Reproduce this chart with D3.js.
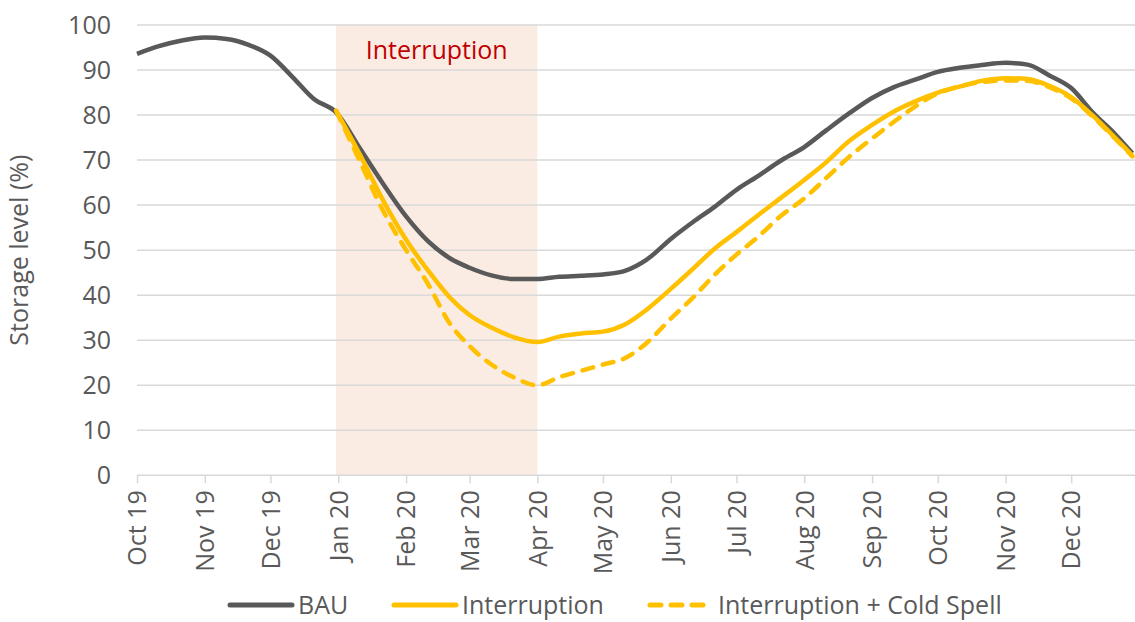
<!DOCTYPE html>
<html>
<head>
  <meta charset="utf-8">
  <script src="https://d3js.org/d3.v7.min.js"></script>
  <title>Storage level</title>
  <style>
    body { margin: 0; background: #ffffff; }
    text { font-family: "Open Sans", sans-serif; fill: #595959; }
    .grid line { stroke: #D9D9D9; stroke-width: 1.5px; }
    .x.axis path, .x.axis line { stroke: #D9D9D9; stroke-width: 1.5px; }
  </style>
</head>
<body>
<div id="chart"></div>
<script>

// dates sampled roughly every 10 days
var dates = ["2019-10-01","2019-10-11","2019-10-21","2019-11-01","2019-11-11","2019-11-21",
  "2019-12-01","2019-12-11","2019-12-21","2019-12-31","2020-01-11","2020-01-21",
  "2020-02-01","2020-02-11","2020-02-21","2020-03-01","2020-03-11","2020-03-21",
  "2020-04-01","2020-04-11","2020-04-21","2020-05-01","2020-05-11","2020-05-21",
  "2020-06-01","2020-06-11","2020-06-21","2020-07-01","2020-07-11","2020-07-21",
  "2020-08-01","2020-08-11","2020-08-21","2020-09-01","2020-09-11","2020-09-21",
  "2020-10-01","2020-10-11","2020-10-21","2020-11-01","2020-11-11","2020-11-21",
  "2020-12-01","2020-12-11","2020-12-21","2020-12-29"];

var bau = [93.6,95.3,96.5,97.2,96.9,95.6,
  93.2,88.5,83.5,80.6,72.5,65.1,
  57.5,52.0,48.2,46.1,44.4,43.6,
  43.6,44.1,44.3,44.6,45.4,47.9,
  52.5,56.2,59.6,63.4,66.5,69.8,
  72.9,76.6,80.2,83.8,86.2,87.9,
  89.6,90.5,91.1,91.6,91.2,88.8,
  86.0,80.5,75.8,71.5];

var interruption = [null,null,null,null,null,null,
  null,null,null,81.0,71.1,61.5,
  52.3,45.5,39.5,35.6,32.8,30.7,
  29.6,30.8,31.5,31.9,33.5,36.8,
  41.4,45.8,50.3,54.0,57.8,61.5,
  65.6,69.5,74.0,77.8,80.8,83.1,
  85.0,86.3,87.6,88.2,88.0,86.5,
  84.0,79.8,75.0,71.0];

var coldSpell = [null,null,null,null,null,null,
  null,null,null,81.0,69.6,59.2,
  50.0,42.5,33.7,28.7,24.6,21.8,
  20.0,21.8,23.2,24.6,26.0,29.4,
  34.8,39.4,44.5,49.0,53.0,57.5,
  61.5,66.0,70.5,74.8,78.5,82.0,
  84.8,86.4,87.3,87.7,87.6,86.2,
  83.7,79.6,74.8,70.8];

var tickMonths = ["2019-10-01","2019-11-01","2019-12-01","2020-01-01","2020-02-01","2020-03-01",
  "2020-04-01","2020-05-01","2020-06-01","2020-07-01","2020-08-01","2020-09-01",
  "2020-10-01","2020-11-01","2020-12-01"];
var yTicks = [0,10,20,30,40,50,60,70,80,90,100];
var shadeRange = ["2019-12-31","2020-04-01"];

var parse = d3.timeParse("%Y-%m-%d");

var margin = {left: 137, right: 1139, top: 25, bottom: 475.3},
    width = 1135, height = 622;

var svg = d3.select("#chart").append("svg")
  .attr("width", width)
  .attr("height", height);

var x = d3.scaleTime()
  .domain([parse("2019-10-01"), parse("2021-01-01")])
  .range([margin.left, margin.right]);
var y = d3.scaleLinear().domain([0, 100]).range([margin.bottom, margin.top]);

// interruption shading
svg.append("rect")
  .attr("x", x(parse(shadeRange[0])))
  .attr("y", y(100))
  .attr("width", x(parse(shadeRange[1])) - x(parse(shadeRange[0])))
  .attr("height", y(0) - y(100))
  .attr("fill", "#FBECE3");

svg.append("text")
  .attr("x", (x(parse(shadeRange[0])) + x(parse(shadeRange[1]))) / 2)
  .attr("y", 59)
  .attr("text-anchor", "middle")
  .style("font-size", "25px")
  .style("fill", "#C00000")
  .text("Interruption");

// gridlines
svg.append("g")
  .attr("class", "grid")
  .selectAll("line")
  .data(yTicks.slice(1))
  .enter().append("line")
    .attr("x1", margin.left)
    .attr("x2", width)
    .attr("y1", function(d) { return y(d); })
    .attr("y2", function(d) { return y(d); });

// y labels
svg.append("g")
  .selectAll("text")
  .data(yTicks)
  .enter().append("text")
    .attr("x", 111)
    .attr("y", function(d) { return y(d); })
    .attr("dy", "0.35em")
    .attr("text-anchor", "end")
    .style("font-size", "25px")
    .text(function(d) { return d; });

// x axis
var xAxis = svg.append("g")
  .attr("class", "x axis")
  .attr("transform", "translate(0," + margin.bottom + ")")
  .call(d3.axisBottom(x)
    .tickValues(tickMonths.map(parse))
    .tickSize(8)
    .tickSizeOuter(0)
    .tickFormat(d3.timeFormat("%b %y")));

xAxis.select(".domain").attr("d", "M" + margin.left + ",0H" + width);

xAxis.selectAll("text")
  .attr("transform", "rotate(-90)")
  .attr("x", -15)
  .attr("y", 0)
  .attr("dy", "0.35em")
  .style("text-anchor", "end")
  .style("font-size", "25px")
  .style("font-family", "'Open Sans', sans-serif")
  .style("fill", "#595959");

// y axis title
svg.append("text")
  .attr("transform", "translate(28," + ((margin.top + margin.bottom) / 2) + ") rotate(-90)")
  .attr("text-anchor", "middle")
  .style("font-size", "25px")
  .text("Storage level (%)");

// lines
function makeLine(values) {
  return d3.line()
    .defined(function(d, i) { return values[i] != null; })
    .x(function(d) { return x(parse(d)); })
    .y(function(d, i) { return y(values[i]); })
    .curve(d3.curveMonotoneX)(dates);
}

svg.append("path")
  .attr("d", makeLine(bau))
  .attr("fill", "none")
  .attr("stroke", "#595959")
  .attr("stroke-width", 4.5)
  .attr("stroke-linejoin", "round");

svg.append("path")
  .attr("d", makeLine(coldSpell))
  .attr("fill", "none")
  .attr("stroke", "#FFC000")
  .attr("stroke-width", 4.5)
  .attr("stroke-linecap", "round")
  .attr("stroke-dasharray", "11,10");

svg.append("path")
  .attr("d", makeLine(interruption))
  .attr("fill", "none")
  .attr("stroke", "#FFC000")
  .attr("stroke-width", 4.5)
  .attr("stroke-linejoin", "round");

// legend
var legend = [
  {name: "BAU", color: "#595959", dash: null, x: 230},
  {name: "Interruption", color: "#FFC000", dash: null, x: 394},
  {name: "Interruption + Cold Spell", color: "#FFC000", dash: "11,10", x: 650}
];

var lg = svg.append("g").selectAll("g")
  .data(legend)
  .enter().append("g")
    .attr("transform", function(d) { return "translate(" + d.x + ",605)"; });

lg.append("line")
  .attr("x1", 0).attr("x2", 62)
  .attr("stroke", function(d) { return d.color; })
  .attr("stroke-width", 5)
  .attr("stroke-linecap", "round")
  .attr("stroke-dasharray", function(d) { return d.dash; });

lg.append("text")
  .attr("x", 68)
  .attr("dy", "0.35em")
  .style("font-size", "25px")
  .text(function(d) { return d.name; });

</script>
</body>
</html>
